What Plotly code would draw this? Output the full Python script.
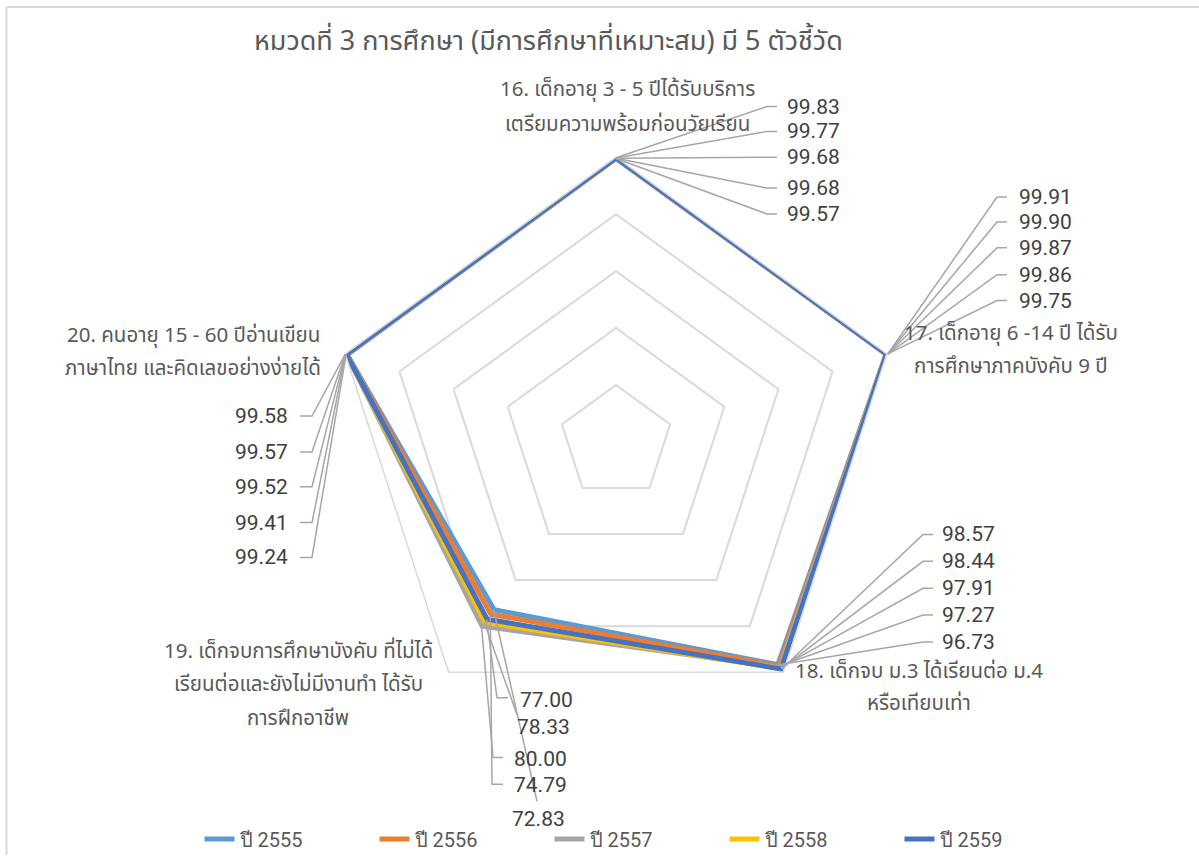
import math
import plotly.graph_objects as go

# ---------------- data ----------------
categories = [
    "16. เด็กอายุ 3 - 5 ปีได้รับบริการเตรียมความพร้อมก่อนวัยเรียน",
    "17. เด็กอายุ 6 -14 ปี ได้รับการศึกษาภาคบังคับ 9 ปี",
    "18. เด็กจบ ม.3 ได้เรียนต่อ ม.4 หรือเทียบเท่า",
    "19. เด็กจบการศึกษาบังคับ ที่ไม่ได้เรียนต่อและยังไม่มีงานทำ ได้รับการฝึกอาชีพ",
    "20. คนอายุ 15 - 60 ปีอ่านเขียนภาษาไทย และคิดเลขอย่างง่ายได้",
]
category_lines = [
    ["16. เด็กอายุ 3 - 5 ปีได้รับบริการ", "เตรียมความพร้อมก่อนวัยเรียน"],
    ["17. เด็กอายุ 6 -14 ปี ได้รับ", "การศึกษาภาคบังคับ 9 ปี"],
    ["18. เด็กจบ ม.3 ได้เรียนต่อ ม.4", "หรือเทียบเท่า"],
    ["19. เด็กจบการศึกษาบังคับ ที่ไม่ได้", "เรียนต่อและยังไม่มีงานทำ ได้รับ", "การฝึกอาชีพ"],
    ["20. คนอายุ 15 - 60 ปีอ่านเขียน", "ภาษาไทย และคิดเลขอย่างง่ายได้"],
]
series_names = ["ปี 2555", "ปี 2556", "ปี 2557", "ปี 2558", "ปี 2559"]
y2555 = [99.57, 99.75, 96.73, 72.83, 99.24]
y2556 = [99.68, 99.86, 97.27, 74.79, 99.41]
y2557 = [99.68, 99.87, 97.91, 80.00, 99.52]
y2558 = [99.77, 99.90, 98.44, 78.33, 99.57]
y2559 = [99.83, 99.91, 98.57, 77.00, 99.58]
series_values = [y2555, y2556, y2557, y2558, y2559]
radial_ticks = [0, 20, 40, 60, 80, 100]
title_text = "หมวดที่ 3 การศึกษา (มีการศึกษาที่เหมาะสม) มี 5 ตัวชี้วัด"

# ---------------- style ----------------
colors = ["#5B9BD5", "#ED7D31", "#A5A5A5", "#FFC000", "#4472C4"]
W, H = 1199, 859
CX, CY, R = 616, 444, 286          # polar centre / radius in px
RMAX = radial_ticks[-1]
GRID = "#D9D9D9"
LEADER = "#A6A6A6"
TXT = "#595959"
NUM = "#404040"
THAI_FONT = "Tahoma, 'Noto Sans Thai', 'Noto Sans', sans-serif"
NUM_FONT = "Roboto, 'Noto Sans', sans-serif"

# label placement (px): rows top-to-bottom are series 2559..2555
# each row: (text_x, text_y, elbow_x, elbow_y, end_x, end_y)
def rows_h(tx, ys, ex, lx):
    return [(tx, y, ex, y, lx, y) for y in ys]

label_layout = [
    dict(anchor="left", rows=rows_h(785, [107, 132, 158, 189, 215], 767, 777)),
    dict(anchor="left", rows=rows_h(1017, [198, 223, 249, 276, 302], 997, 1007)),
    dict(anchor="left", rows=rows_h(940, [537, 564, 591, 618, 645], 923, 933)),
    dict(anchor="left", rows=[(518, 703, 497, 701, 508, 701),
                              (515, 730, 517, 718, 517, 718),
                              (512, 763, 493, 761, 503, 761),
                              (512, 789, 492, 788, 503, 788),
                              (510, 823, 537, 805, 537, 805)]),
    dict(anchor="right", rows=rows_h(290, [418, 454, 489, 525, 560], 312, 300)),
]
cat_label_pos = [(628, [90, 125]), (1011, [335, 368]), (919, [675, 707]),
                 (298, [655, 688, 722]), (193, [337, 370])]


def px2paper(x, y):
    return x / W, 1 - y / H


def point_px(v, k):
    ang = math.radians(90 - 360.0 * k / len(categories))
    rr = R * v / RMAX
    return CX + rr * math.cos(ang), CY - rr * math.sin(ang)


fig = go.Figure()
for name, vals, col in zip(series_names, series_values, colors):
    fig.add_trace(go.Scatterpolar(
        r=vals + vals[:1], theta=categories + categories[:1],
        mode="lines", name=name, line=dict(color=col, width=5),
        hoverinfo="skip"))

shapes = []
annotations = []

# leader lines + value labels
n = len(series_values)
for k in range(len(categories)):
    lay = label_layout[k]
    for row_i, (tx, ty, ex, ey, lx, ly) in enumerate(lay["rows"]):
        s = n - 1 - row_i
        v = series_values[s][k]
        px, py = point_px(v, k)
        pts = [px2paper(px, py), px2paper(ex, ey), px2paper(lx, ly)]
        path = "M {} {} L {} {} L {} {}".format(*[c for p in pts for c in p])
        shapes.append(dict(type="path", xref="paper", yref="paper", path=path,
                           line=dict(color=LEADER, width=1.5), layer="above"))
        ax_, ay_ = px2paper(tx, ty)
        annotations.append(dict(x=ax_, y=ay_, xref="paper", yref="paper",
                                text=f"{v:.2f}", showarrow=False,
                                xanchor=lay["anchor"], yanchor="middle",
                                font=dict(family=NUM_FONT, size=21, color=NUM)))

# category labels
for lines, (cx_, ys) in zip(category_lines, cat_label_pos):
    for line, yy in zip(lines, ys):
        xx, yp = px2paper(cx_, yy)
        annotations.append(dict(x=xx, y=yp, xref="paper", yref="paper",
                                text=line, showarrow=False, xanchor="center",
                                yanchor="middle",
                                font=dict(family=THAI_FONT, size=20.5, color=TXT)))

# title
tx_, ty_ = px2paper(548, 42)
annotations.append(dict(x=tx_, y=ty_, xref="paper", yref="paper",
                        text=title_text,
                        showarrow=False, xanchor="center", yanchor="middle",
                        font=dict(family=THAI_FONT, size=27, color=TXT)))

# chart-area border (left + top)
bx0, by0 = px2paper(6.5, 7)
shapes.append(dict(type="line", xref="paper", yref="paper", x0=bx0, y0=by0,
                   x1=bx0, y1=0, line=dict(color=GRID, width=2)))
shapes.append(dict(type="line", xref="paper", yref="paper", x0=bx0, y0=by0,
                   x1=1, y1=by0, line=dict(color=GRID, width=2)))

lgx, lgy = px2paper(637, 843)
fig.update_layout(
    width=W, height=H, margin=dict(l=0, r=0, t=0, b=0),
    paper_bgcolor="white", plot_bgcolor="white",
    showlegend=True,
    legend=dict(orientation="h", x=lgx, y=lgy, xanchor="center", yanchor="middle",
                font=dict(family=NUM_FONT, size=20, color=TXT),
                entrywidth=130, entrywidthmode="pixels",
                bgcolor="rgba(0,0,0,0)"),
    polar=dict(
        domain=dict(x=[(CX - R) / W, (CX + R) / W],
                    y=[(H - CY - R) / H, (H - CY + R) / H]),
        bgcolor="white", gridshape="linear",
        radialaxis=dict(range=[radial_ticks[0], RMAX], tickvals=radial_ticks,
                        showticklabels=False, ticks="", showline=False,
                        gridcolor=GRID, gridwidth=1.5),
        angularaxis=dict(rotation=90, direction="clockwise", showticklabels=False,
                         ticks="", showgrid=False, linecolor=GRID, linewidth=1.5),
    ),
    shapes=shapes, annotations=annotations,
)

fig.write_html("out.html", config={"displayModeBar": False},
               post_script="document.body.style.margin='0';")
